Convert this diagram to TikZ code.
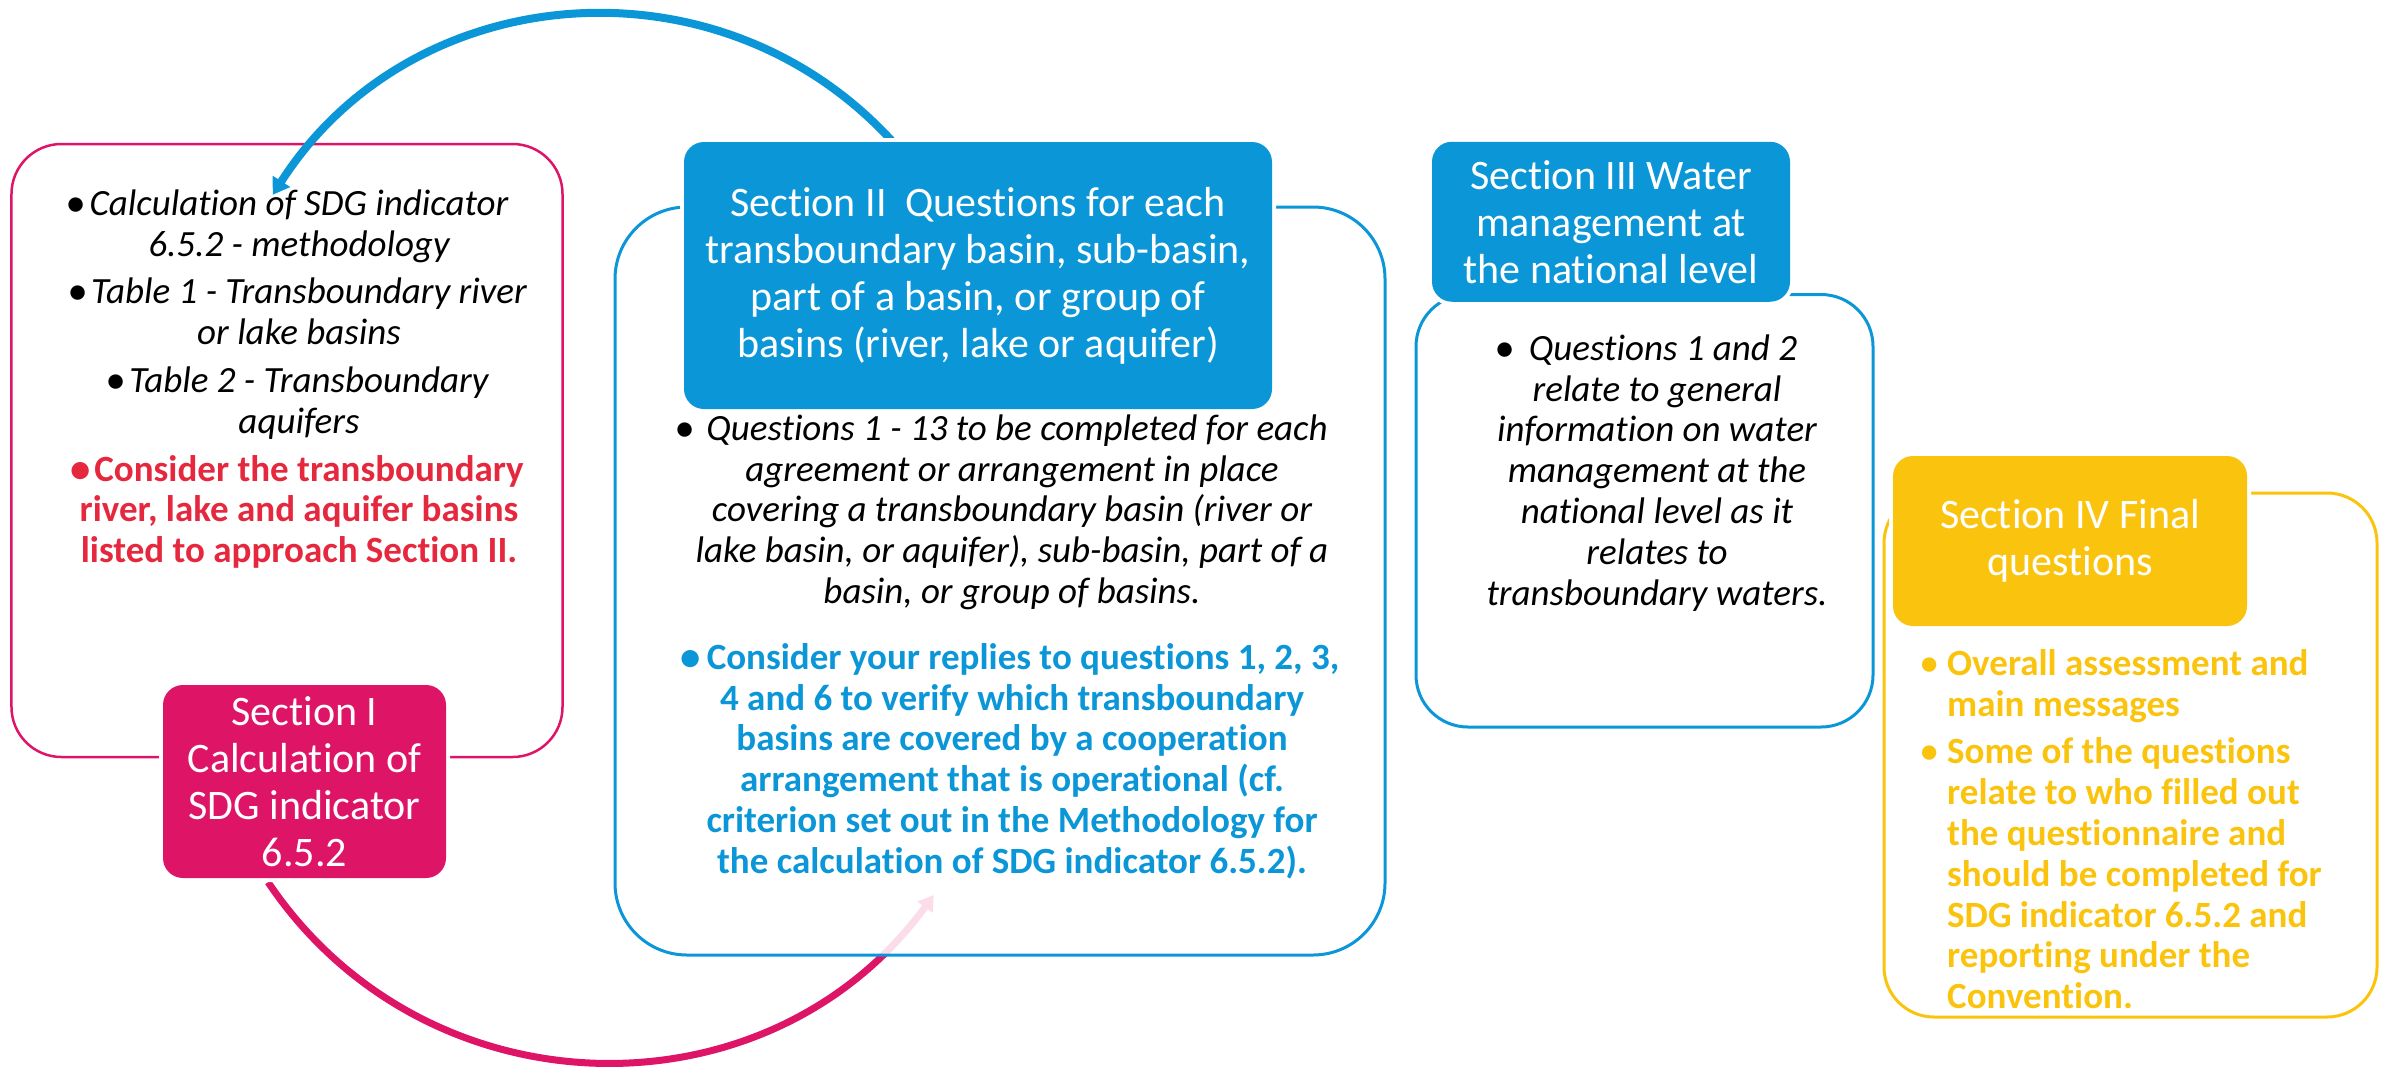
\documentclass[tikz,border=0pt]{standalone}
\usepackage{fontspec}
\setmainfont{Carlito}[Ligatures=NoCommon]
\usetikzlibrary{arrows.meta}
\definecolor{pinkc}{HTML}{DE1467}
\definecolor{redtxt}{HTML}{E5283E}
\definecolor{bluec}{HTML}{0B96D8}
\definecolor{yelc}{HTML}{FAC40E}
\newcommand\myfl{\rule{0pt}{32bp}}
\newcommand\mybul[2]{\makebox[#1bp][l]{\hspace*{#2bp}\makebox[0pt][c]{\raisebox{-0.03em}{\scalebox{1.1}{•}}}}}
\newcommand\rtx[1]{{\color{redtxt}\upshape\bfseries #1}}
\newcommand\btx[1]{{\color{bluec}\upshape\bfseries #1}}
\begin{document}
\begin{tikzpicture}[x=1bp,y=-1bp,
  outbox/.style={rectangle, inner sep=0pt, line width=3bp, draw=#1},
  fillbox/.style={rectangle, inner sep=0pt, rounded corners=20bp, fill=#1,
    preaction={draw=white, line width=8bp}, text=white, align=center,
    font=\fontsize{42bp}{47bp}\selectfont},
  bodytxt/.style={inner sep=0pt, align=center, font=\fontsize{37bp}{40.8bp}\selectfont\itshape},
  yeltxt/.style={inner sep=0pt, align=left, text=yelc, font=\fontsize{37bp}{40.8bp}\selectfont\bfseries},
]
\useasboundingbox (0,0) rectangle (2389,1070);

% outline boxes
\node[outbox=pinkc, line width=2.5bp, rounded corners=50bp, minimum width=551bp, minimum height=613bp] (s1out) at (287,450.5) {};

% named ends of the connectors
\coordinate (pS) at (268.1,882.2);
\coordinate (pE) at (933.8,895);
\coordinate (bS) at (900,150);
\coordinate (bE) at (272.8,194.8);

% pink connector (Section I -> Section II), partly veiled by the Section II box
\draw[pinkc, line width=7bp, -{Triangle[length=15bp,width=18bp]}] (pS) .. controls (425.4,1116.3) and (767.6,1122.9) .. (pE);

\node[outbox=bluec, rounded corners=72bp, fill=white, fill opacity=0.86, minimum width=770bp, minimum height=748bp] (s2out) at (1000,581) {};
\node[outbox=bluec, rounded corners=52bp, minimum width=457bp, minimum height=432.5bp] (s3out) at (1644.5,510.75) {};
\node[outbox=yelc, rounded corners=50bp, minimum width=493bp, minimum height=524bp] (s4out) at (2130.5,755) {};

% blue connector (Section II -> Section I)
\draw[bluec, line width=8bp, -{Triangle[length=16bp,width=20bp]}] (bS) .. controls (728.6,-48.6) and (414.1,-26.2) .. (bE);

% filled heading boxes
\node[fillbox=pinkc, minimum width=283bp, minimum height=193bp] (s1) at (304.5,781.5)
  {Section I\\Calculation of\\SDG indicator\\6.5.2};
\node[fillbox=bluec, minimum width=588bp, minimum height=267bp] (s2) at (978,275.5)
  {Section II\ \ Questions for each\\transboundary basin, sub-basin,\\part of a basin, or group of\\basins (river, lake or aquifer)};
\node[fillbox=bluec, minimum width=358bp, minimum height=160bp] (s3) at (1611,221.75)
  {Section III Water\\management at\\the national level};
\node[fillbox=yelc, minimum width=354bp, minimum height=170bp] (s4) at (2070,541)
  {Section IV Final\\questions};

% body texts
\node[bodytxt, anchor=north] (s1body) at (299,183) {%
  \myfl\mybul{20}{6}Calculation of SDG indicator\hspace*{20bp}\\
  6.5.2 - methodology\\[7bp]
  \mybul{20}{6}Table 1 - Transboundary river\hspace*{20bp}\\
  or lake basins\\[7bp]
  \mybul{20}{6}Table 2 - Transboundary\hspace*{20bp}\\
  aquifers\\[7bp]
  \rtx{\mybul{20}{6}Consider the transboundary}\hspace*{20bp}\\
  \rtx{river, lake and aquifer basins}\\
  \rtx{listed to approach Section II.}};

\node[bodytxt, anchor=north] (s2body) at (1012,408) {%
  \myfl\mybul{28}{6}Questions 1 - 13 to be completed for each\hspace*{18bp}\\
  agreement or arrangement in place\\
  covering a transboundary basin (river or\\
  lake basin, or aquifer), sub-basin, part of a\\
  basin, or group of basins.\\[25bp]
  \btx{\mybul{22}{6}Consider your replies to questions 1, 2, 3,}\hspace*{18bp}\\
  \btx{4 and 6 to verify which transboundary}\\
  \btx{basins are covered by a cooperation}\\
  \btx{arrangement that is operational (cf.}\\
  \btx{criterion set out in the Methodology for}\\
  \btx{the calculation of SDG indicator 6.5.2).}};

\node[bodytxt, anchor=north] (s3body) at (1657,328) {%
  \myfl\mybul{30}{6}Questions 1 and 2\hspace*{18bp}\\
  relate to general\\
  information on water\\
  management at the\\
  national level as it\\
  relates to\\
  transboundary waters.};

\node[yeltxt, anchor=north west] (s4body) at (1922,643) {%
  \myfl{\mdseries\mybul{25}{7}}Overall assessment and\\
  \hspace*{25bp}main messages\\[7bp]
  {\mdseries\mybul{25}{7}}Some of the questions\\
  \hspace*{25bp}relate to who filled out\\
  \hspace*{25bp}the questionnaire and\\
  \hspace*{25bp}should be completed for\\
  \hspace*{25bp}SDG indicator 6.5.2 and\\
  \hspace*{25bp}reporting under the\\
  \hspace*{25bp}Convention.};
\end{tikzpicture}
\end{document}
